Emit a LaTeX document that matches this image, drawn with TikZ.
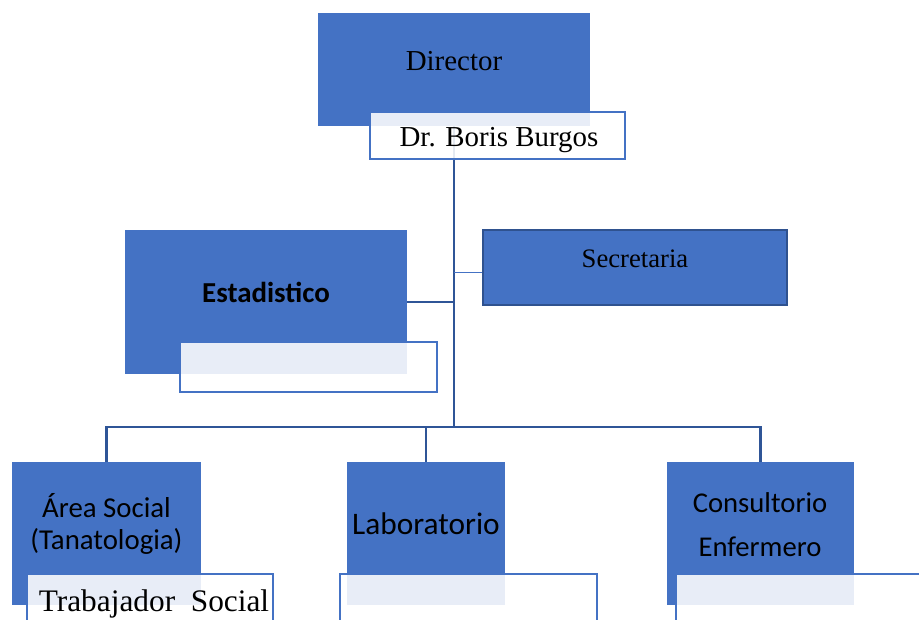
\documentclass[tikz,border=0pt]{standalone}
\usepackage{fontspec}
\usetikzlibrary{backgrounds}
\setmainfont{Liberation Serif}
\newfontfamily\calfont{Carlito}
\definecolor{boxblue}{HTML}{4472C4}
\definecolor{linkblue}{HTML}{2F5597}
\definecolor{edgeblue}{HTML}{2F528F}
\begin{document}
\begin{tikzpicture}[x=0.75pt,y=-0.75pt,
  bluebox/.style={rectangle,fill=boxblue,draw=none,inner sep=0pt,outer sep=0pt},
  secbox/.style={rectangle,fill=boxblue,draw=edgeblue,line width=1.5pt,inner sep=0pt,outer sep=0pt},
  namebox/.style={rectangle,draw=boxblue,line width=1.5pt,fill=white,fill opacity=0.88,inner sep=0pt,outer sep=0pt},
  conn/.style={draw=linkblue,line width=2.2pt},
  thinconn/.style={draw=boxblue,line width=0.8pt},
  serif/.style={font=\fontsize{21.7}{26}\selectfont,text=black,inner sep=0pt},
  sans/.style={font=\calfont\fontsize{21.7}{26}\selectfont,text=black,inner sep=0pt,align=center}]
\clip (0,0) rectangle (919,619);
% box shapes
\path
  (454,69.5) node[bluebox,minimum width=204pt,minimum height=84.75pt] (dir) {}
  (266,302) node[bluebox,minimum width=211.5pt,minimum height=108pt] (est) {}
  (635,267.5) node[secbox,minimum width=228pt,minimum height=56.25pt] (sec) {}
  (106.5,533.5) node[bluebox,minimum width=141.75pt,minimum height=107.25pt] (area) {}
  (426,533.5) node[bluebox,minimum width=118.5pt,minimum height=107.25pt] (lab) {}
  (760.5,533.5) node[bluebox,minimum width=140.25pt,minimum height=107.25pt] (cons) {};
\coordinate (busc) at (454,427);
% connectors (behind)
\begin{scope}[on background layer]
\fill[white] (0,0) rectangle (919,619);
\draw[conn] (dir.south) -- (busc);
\draw[conn] (est.east) -- (est.east -| busc);
\draw[thinconn] ([yshift=-4pt]sec.west) -- ([yshift=-4pt]sec.west -| busc);
\draw[conn] (area.north) |- (busc) -| (cons.north);
\draw[conn] (lab.north) -- (lab.north |- busc);
\end{scope}
% name boxes
\path
  (497.5,135.5) node[namebox,minimum width=191.25pt,minimum height=35.25pt] (dirn) {}
  (308.5,367) node[namebox,minimum width=192.75pt,minimum height=37.5pt] (estn) {}
  (150,612) node[namebox,minimum width=184.5pt,minimum height=57pt] (arean) {}
  (468.5,612) node[namebox,minimum width=192.75pt,minimum height=57pt] (labn) {}
  (818,612) node[namebox,minimum width=213pt,minimum height=57pt] (consn) {};
% texts
\node[serif] (tdir) at (454,61) {Director};
\node[serif] (tdirn) at (499,140) {Dr. Boris Burgos};
\node[serif,font=\fontsize{20}{24}\selectfont] (tsec) at (635,259) {Secretaria};
\node[sans,font=\calfont\bfseries\fontsize{21.7}{26}\selectfont] (test) at (266,292) {Estadistico};
\node[sans,font=\calfont\fontsize{21.6}{24}\selectfont] (tarea) at (106.5,524) {Área Social\\(Tanatologia)};
\node[serif,font=\fontsize{23.5}{28}\selectfont] (tarean) at (154,604) {Trabajador\ \ Social};
\node[sans,font=\calfont\fontsize{23.5}{28}\selectfont] (tlab) at (426,524) {Laboratorio};
\node[sans,font=\calfont\fontsize{21.5}{33}\selectfont] (tcons) at (760,525) {Consultorio\\Enfermero};
\end{tikzpicture}
\end{document}
